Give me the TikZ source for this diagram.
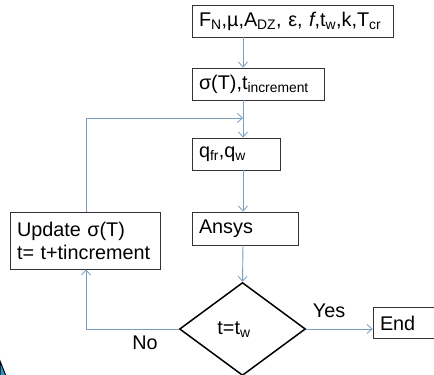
\documentclass[tikz,border=0pt]{standalone}
\usepackage{fontspec}
\setmainfont{Liberation Sans}
\usetikzlibrary{arrows.meta,shapes.geometric}
\definecolor{flow}{RGB}{120,158,196}
\definecolor{logo}{RGB}{40,150,200}
\newcommand{\sbs}[1]{\textsubscript{#1}}
\begin{document}
\begin{tikzpicture}[x=1pt,y=-1pt,
  every node/.style={font=\fontsize{19.8}{22}\selectfont},
  procbox/.style={draw=black!80, line width=0.8pt, rectangle, inner xsep=7pt, inner ysep=0pt, align=left, anchor=center},
  decide/.style={draw=black, line width=1.5pt, diamond, inner sep=0pt, aspect=1.35},
  conn/.style={draw=flow, line width=0.9pt},
  arr/.style={conn, -{Straight Barb[length=5pt,width=9pt,line width=0.8pt]}},
  lbl/.style={inner sep=0pt}
]
\useasboundingbox (0,0) rectangle (434,375);
\clip (0,0) rectangle (434,375);
\fill[white] (0,0) rectangle (434,375);
\coordinate (ax) at (243,0);

\node[procbox, minimum width=201pt, minimum height=32pt, text width=187pt] (b1) at (292.5,21)
  {F\sbs{N},\textmu,A\sbs{DZ}, ε, \textit{f},t\sbs{w},k,T\sbs{cr}};
\node[procbox, minimum width=132pt, minimum height=32pt, text width=118pt] (b2) at (258,84)
  {σ(T),t\sbs{increment}};
\node[procbox, minimum width=88pt, minimum height=32pt, text width=74pt] (b3) at (236,154)
  {q\sbs{fr},q\sbs{w}};
\node[procbox, minimum width=106pt, minimum height=33pt, text width=92pt] (ans) at (245,228.5)
  {Ansys};
\node[procbox, minimum width=150pt, minimum height=57pt, text width=136pt, font=\fontsize{19.8}{23}\selectfont] (upd) at (85,240.5)
  {Update σ(T)\\t= t+tincrement};
\node[decide, minimum width=126pt, minimum height=93pt] (dec) at (242.5,329) {};
\node[lbl] (dtxt) at (234,330) {t=t\sbs{w}};
\node[procbox, minimum width=72pt, minimum height=31pt, text width=58pt] (end) at (409,323) {End};

\coordinate (c1) at (86,329);
\coordinate (c2) at (86,118);
\coordinate (c3) at (243,118);

\draw[arr] (b1.south -| ax) -- (b2.north -| ax);
\draw[arr] (b2.south -| ax) -- (b3.north -| ax);
\draw[arr] (b3.south -| ax) -- (ans.north -| ax);
\draw[arr] (ans.south -| ax) -- (dec.north);
\draw[arr] (dec.east) -- (dec.east -| end.west);
\draw[arr] (dec.west) -- (c1) -- (upd.south -| c1);
\draw[arr] (upd.north -| c1) -- (c2) -- (c3);

\node[lbl] (yes) at (329,311) {Yes};
\node[lbl] (no) at (145,343) {No};

\filldraw[fill=logo, draw=black, line width=1pt] (0,361) -- (6,376) -- (0,376) -- cycle;
\end{tikzpicture}
\end{document}
